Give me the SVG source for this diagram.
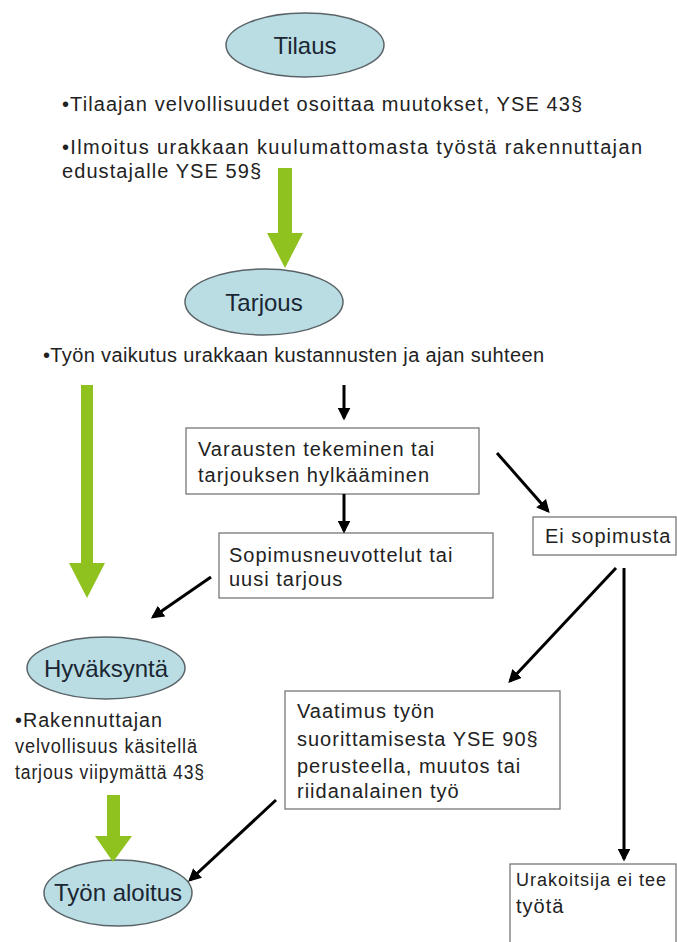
<svg xmlns="http://www.w3.org/2000/svg" width="677" height="942" viewBox="0 0 677 942">
<defs>
<style>
.ell{fill:#b9dde3;stroke:#5a6468;stroke-width:1.5}
.elt{font-family:"Liberation Sans",Arial,sans-serif;font-size:24px;fill:#1b2633;text-anchor:middle}
.t{font-family:"Liberation Sans",Arial,sans-serif;font-size:20px;letter-spacing:1px;fill:#222}
.box{fill:#fff;stroke:#777;stroke-width:1.3}
.con{stroke:#000;stroke-width:3;fill:none;marker-end:url(#ah)}
.g{fill:#8fc21f}
</style>
<marker id="ah" viewBox="0 0 10 10" refX="8" refY="5" markerWidth="13" markerHeight="13" markerUnits="userSpaceOnUse" orient="auto">
<path d="M0,0 L10,5 L0,10 z" fill="#000"/>
</marker>
</defs>
<rect width="677" height="942" fill="#fff"/>

<g id="tilaus">
<ellipse class="ell" cx="305" cy="45" rx="79" ry="32"/>
<text class="elt" x="305" y="54">Tilaus</text>
</g>
<g id="tilaus-notes">
<text class="t" x="62" y="111" textLength="521" lengthAdjust="spacing">•Tilaajan velvollisuudet osoittaa muutokset, YSE 43§</text>
<text class="t" x="62" y="154" textLength="581" lengthAdjust="spacing">•Ilmoitus urakkaan kuulumattomasta työstä rakennuttajan</text>
<text class="t" x="62" y="178" textLength="200" lengthAdjust="spacing">edustajalle YSE 59§</text>
</g>
<g id="tarjous">
<ellipse class="ell" cx="264" cy="302" rx="79" ry="33"/>
<text class="elt" x="264" y="311">Tarjous</text>
</g>
<g id="tarjous-note">
<text class="t" x="43" y="362" textLength="502" lengthAdjust="spacing">•Työn vaikutus urakkaan kustannusten ja ajan suhteen</text>
</g>
<g id="varaukset">
<rect class="box" x="186" y="428" width="293" height="66"/>
<text class="t" x="198" y="456">Varausten tekeminen tai</text>
<text class="t" x="198" y="482">tarjouksen hylkääminen</text>
</g>
<g id="ei-sopimusta">
<rect class="box" x="533" y="517" width="143" height="38"/>
<text class="t" x="545" y="543">Ei sopimusta</text>
</g>
<g id="sopimusneuvottelut">
<rect class="box" x="219" y="533" width="274" height="65"/>
<text class="t" x="229" y="562">Sopimusneuvottelut tai</text>
<text class="t" x="229" y="586">uusi tarjous</text>
</g>
<g id="hyvaksynta">
<ellipse class="ell" cx="106" cy="668" rx="79" ry="31"/>
<text class="elt" x="106" y="677">Hyväksyntä</text>
</g>
<g id="hyvaksynta-notes">
<text class="t" x="15" y="727" textLength="148" lengthAdjust="spacingAndGlyphs">•Rakennuttajan</text>
<text class="t" x="15" y="753" textLength="183" lengthAdjust="spacingAndGlyphs">velvollisuus käsitellä</text>
<text class="t" x="15" y="779" textLength="190" lengthAdjust="spacingAndGlyphs">tarjous viipymättä 43§</text>
</g>
<g id="vaatimus">
<rect class="box" x="285" y="691" width="275" height="118"/>
<text class="t" x="297" y="718">Vaatimus työn</text>
<text class="t" x="297" y="746">suorittamisesta YSE 90§</text>
<text class="t" x="297" y="773">perusteella, muutos tai</text>
<text class="t" x="297" y="798">riidanalainen työ</text>
</g>
<g id="tyon-aloitus">
<ellipse class="ell" cx="118" cy="893" rx="74" ry="33"/>
<text class="elt" x="118" y="901">Työn aloitus</text>
</g>
<g id="urakoitsija">
<rect class="box" x="510" y="864" width="166" height="86"/>
<text class="t" x="516" y="886" style="font-size:18px">Urakoitsija ei tee</text>
<text class="t" x="516" y="913">työtä</text>
</g>

<g id="connectors">
<polygon class="g" points="278,168 292,168 292,233 303,233 285,268 267,233 278,233"/>
<polygon class="g" points="81,385 93,385 93,563 105,563 87,598 69,563 81,563"/>
<polygon class="g" points="107,795 120,795 120,836 132,836 113,862 95,836 107,836"/>
<line class="con" x1="344" y1="385" x2="344" y2="418"/>
<line class="con" x1="497" y1="453" x2="548" y2="511"/>
<line class="con" x1="344" y1="494" x2="344" y2="531"/>
<line class="con" x1="211" y1="577" x2="153" y2="617"/>
<line class="con" x1="616" y1="568" x2="510" y2="681"/>
<line class="con" x1="624" y1="568" x2="624" y2="859"/>
<line class="con" x1="276" y1="800" x2="190" y2="880"/>
</g>
</svg>
